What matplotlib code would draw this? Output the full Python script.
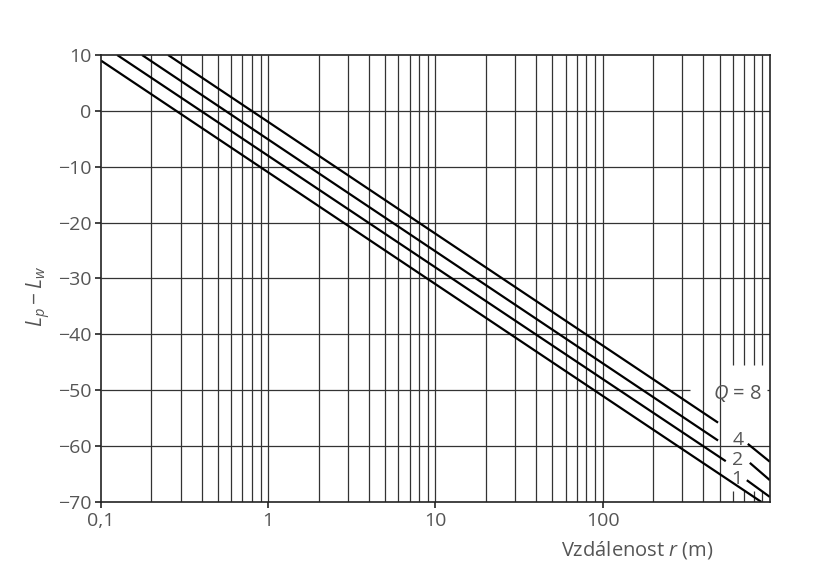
import matplotlib.pyplot as plt
import numpy as np

plt.rcParams['font.family'] = ['Open Sans', 'DejaVu Sans']
plt.rcParams['mathtext.fontset'] = 'custom'
plt.rcParams['mathtext.rm'] = 'Open Sans'
plt.rcParams['mathtext.it'] = 'Open Sans:italic'

# curves Lp - Lw vs distance r, for directivity Q (endpoints)
Q_labels = ["1", "2", "4", "8"]
r_start = [0.1, 0.125, 0.176, 0.252]
r_end = [890, 545, 490, 490]
L_start = [9, 10, 10, 10]
L_end = [-70, -62.7, -59, -55.8]

# short leader strokes next to the labels 4, 2, 1
lead_r = [[738, 1000], [759, 1000], [728, 1000]]
lead_L = [[-59.6, -62.8], [-63.0, -66.1], [-66.1, -69.1]]
lab_text = ["4", "2", "1"]
lab_r = [600, 594, 590]
lab_L = [-58.9, -62.5, -65.9]

xticks = [0.1, 1, 10, 100]
xticklabels = ["0,1", "1", "10", "100"]
yticks = list(range(-70, 11, 10))

grey = '#555555'
gridc = '#333333'

fig = plt.figure(figsize=(8.19, 5.82), dpi=100)
ax = fig.add_axes([0.1233, 0.1375, 0.8167, 0.768])
ax.set_xscale('log')
ax.set_xlim(0.1, 1000)
ax.set_ylim(-70, 10)

# grid, with a gap where the Q labels sit
for d in [0.1, 1, 10, 100]:
    for k in range(1, 10):
        x = k * d
        if x <= 0.1 or x >= 1000:
            continue
        if x >= 600:
            ax.vlines(x, -70, -68, color=gridc, lw=0.9)
            ax.vlines(x, -45.5, 10, color=gridc, lw=0.9)
        else:
            ax.vlines(x, -70, 10, color=gridc, lw=0.9)
for y in yticks[1:-1]:
    if y == -50:
        ax.hlines(y, 0.1, 335, color=gridc, lw=0.9)
        ax.hlines(y, 960, 1000, color=gridc, lw=0.9)
    else:
        ax.hlines(y, 0.1, 1000, color=gridc, lw=0.9)

for i in range(len(Q_labels)):
    ax.plot([r_start[i], r_end[i]], [L_start[i], L_end[i]], color='black', lw=1.6,
            solid_capstyle='butt', clip_on=True)

for i in range(3):
    ax.plot(lead_r[i], lead_L[i], color='black', lw=1.6, solid_capstyle='butt')
    ax.text(lab_r[i], lab_L[i], lab_text[i], fontsize=14, color=grey, va='center', ha='left')
ax.text(455, -50.5, "$Q$ = 8", fontsize=14.5, color=grey, va='center', ha='left')

for s in ax.spines.values():
    s.set_color('#222222')
    s.set_linewidth(1.2)

ax.set_xticks(xticks)
ax.set_xticklabels(xticklabels)
ax.minorticks_off()
ax.set_yticks(yticks)
ax.set_yticklabels([str(v).replace('-', '\u2212') for v in yticks])
ax.tick_params(axis='both', direction='out', length=4, width=1.2, color='#222222',
               labelsize=14, labelcolor=grey, pad=3)

fig.text(0.778, 0.055, "Vzdálenost $r$ (m)", fontsize=14.5, color=grey, ha='center', va='center')
fig.text(0.047, 0.49, "$L_p - L_w$", fontsize=15, color=grey, ha='center', va='center', rotation=90)

fig.savefig('out.png', dpi=100, facecolor='white')
